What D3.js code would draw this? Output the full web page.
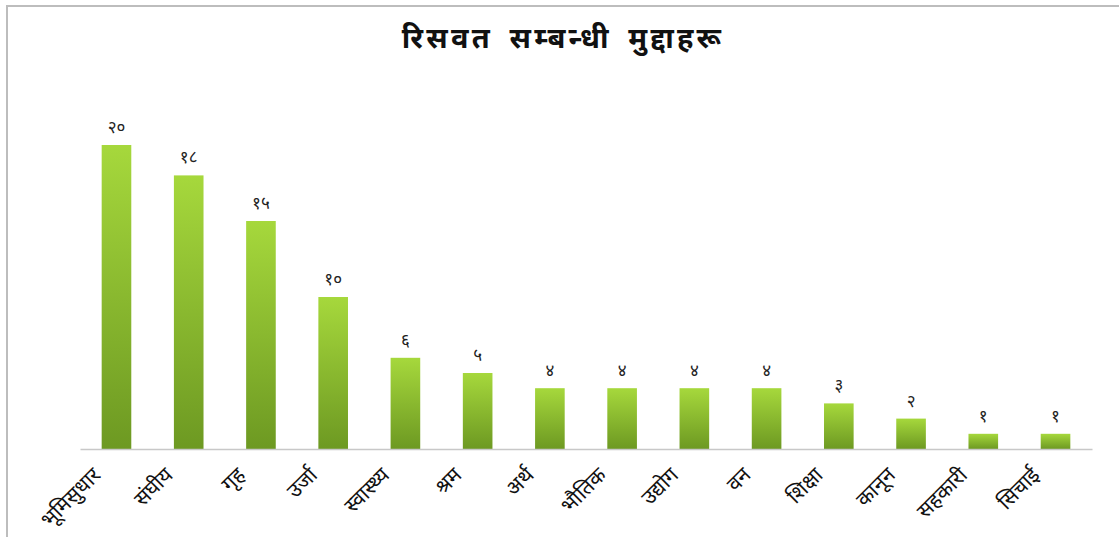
<!DOCTYPE html>
<html>
<head>
<meta charset="utf-8">
<script src="https://cdn.jsdelivr.net/npm/d3@7"></script>
<style>
  body { margin: 0; background: #fff; }
  svg { display: block; font-family: "Noto Sans", "DejaVu Sans", sans-serif; }
</style>
</head>
<body>
<div id="chart"></div>
<script>
const categories = ["भूमिसुधार", "संघीय", "गृह", "उर्जा", "स्वास्थ्य", "श्रम", "अर्थ", "भौतिक", "उद्योग", "वन", "शिक्षा", "कानून", "सहकारी", "सिचाई"];
const values = [20, 18, 15, 10, 6, 5, 4, 4, 4, 4, 3, 2, 1, 1];
const valueLabels = ["२०", "१८", "१५", "१०", "६", "५", "४", "४", "४", "४", "३", "२", "१", "१"];
const title = "रिसवत सम्बन्धी मुद्दाहरू";

const W = 1119, H = 537;
const baseY = 449;

const svg = d3.select("#chart").append("svg")
  .attr("width", W).attr("height", H);

// chart frame
svg.append("rect")
  .attr("x", 7).attr("y", 6).attr("width", W + 10).attr("height", H)
  .attr("fill", "#fff").attr("stroke", "#bdbdbd").attr("stroke-width", 2);

const defs = svg.append("defs");
const grad = defs.append("linearGradient")
  .attr("id", "barGrad").attr("x1", 0).attr("y1", 0).attr("x2", 0).attr("y2", 1);
grad.append("stop").attr("offset", "0%").attr("stop-color", "#a6d83c");
grad.append("stop").attr("offset", "100%").attr("stop-color", "#6d9922");

const x = d3.scaleBand().domain(categories).range([80, 1092]).paddingInner(0.59).paddingOuter(0.3);
const y = d3.scaleLinear().domain([0, 25]).range([baseY, 69]);

svg.append("text")
  .attr("x", 563).attr("y", 48)
  .attr("text-anchor", "middle")
  .attr("font-size", 29).attr("font-weight", "bold")
  .attr("letter-spacing", 3.2)
  .attr("word-spacing", 6)
  .attr("fill", "#111")
  .text(title);

const data = categories.map((c, i) => ({ cat: c, value: values[i], label: valueLabels[i] }));

svg.selectAll(".bar")
  .data(data)
  .enter()
  .append("rect")
  .attr("class", "bar")
  .attr("x", d => x(d.cat))
  .attr("y", d => y(d.value))
  .attr("width", x.bandwidth())
  .attr("height", d => baseY - y(d.value))
  .attr("fill", "url(#barGrad)");

svg.selectAll(".val")
  .data(data)
  .enter()
  .append("text")
  .attr("class", "val")
  .attr("x", d => x(d.cat) + x.bandwidth() / 2)
  .attr("y", d => y(d.value) - 12)
  .attr("text-anchor", "middle")
  .attr("font-size", 17)
  .attr("fill", "#222")
  .text(d => d.label);

const axis = svg.append("g")
  .attr("transform", "translate(0," + baseY + ")")
  .call(d3.axisBottom(x).tickSize(0).tickSizeOuter(0));
axis.select(".domain").attr("stroke", "#c8c8c8").attr("stroke-width", 1.5);
axis.selectAll("text")
  .attr("font-size", 21)
  .attr("fill", "#111")
  .attr("font-family", "'Noto Sans', sans-serif")
  .attr("text-anchor", "end")
  .attr("dy", "0.35em")
  .attr("transform", "translate(-22,20) rotate(-45)");
</script>
</body>
</html>
